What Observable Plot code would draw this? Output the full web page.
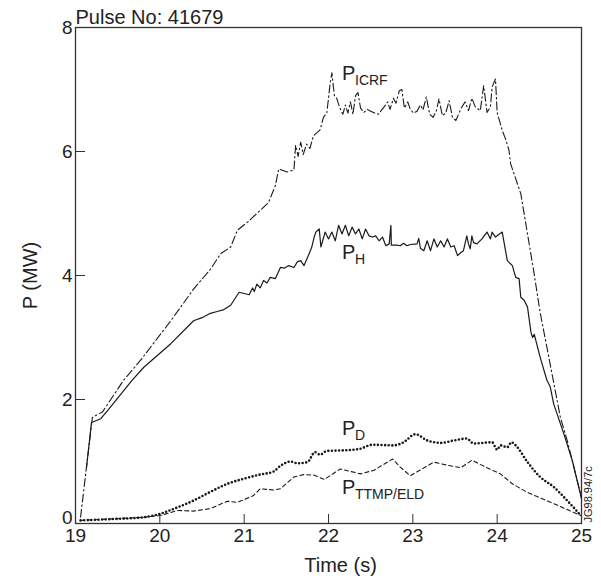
<!DOCTYPE html>
<html><head><meta charset="utf-8">
<script src="https://cdn.jsdelivr.net/npm/d3@7"></script>
<script src="https://cdn.jsdelivr.net/npm/@observablehq/plot@0.6"></script>
<style>body{margin:0;background:#fff;}</style>
</head><body><div id="chart"></div>
<script>
// [time (s), power (MW)]
const pICRF = [[19.06,0.10],[19.20,1.71],[19.32,1.80],[19.57,2.31],[19.77,2.63],[20.13,3.27],[20.40,3.78],[20.60,4.10],[20.72,4.35],[20.84,4.46],[20.92,4.73],[21.04,4.86],[21.19,5.05],[21.29,5.18],[21.37,5.45],[21.41,5.72],[21.51,5.67],[21.59,5.70],[21.61,6.10],[21.64,5.92],[21.67,6.15],[21.70,5.95],[21.74,6.12],[21.78,6.05],[21.82,6.25],[21.86,6.30],[21.90,6.35],[21.94,6.55],[21.98,6.62],[22.02,7.10],[22.04,7.27],[22.07,6.90],[22.10,6.85],[22.13,6.72],[22.17,6.60],[22.20,6.75],[22.23,6.62],[22.26,6.80],[22.29,6.60],[22.32,6.90],[22.35,6.95],[22.38,6.70],[22.42,6.63],[22.46,6.68],[22.50,6.65],[22.55,6.62],[22.59,6.60],[22.62,6.65],[22.66,6.72],[22.70,6.80],[22.73,6.68],[22.77,6.86],[22.80,6.78],[22.84,6.98],[22.87,7.00],[22.90,6.70],[22.94,6.80],[22.97,6.68],[23.01,6.62],[23.05,6.65],[23.09,6.75],[23.12,6.67],[23.16,6.88],[23.20,6.60],[23.24,6.55],[23.28,6.66],[23.31,6.85],[23.35,6.58],[23.39,6.62],[23.43,6.82],[23.47,6.55],[23.51,6.50],[23.57,6.69],[23.62,6.80],[23.66,6.66],[23.70,6.86],[23.74,6.72],[23.80,6.66],[23.84,7.06],[23.88,6.63],[23.92,6.72],[23.94,7.04],[23.98,7.17],[24.00,6.63],[24.06,6.34],[24.10,6.20],[24.14,6.02],[24.16,5.80],[24.28,5.32],[24.43,4.10],[24.51,3.40],[24.59,2.84],[24.75,1.71],[24.83,1.34],[25.00,0.42]];
const pH = [[19.13,0.90],[19.19,1.63],[19.30,1.69],[19.38,1.82],[19.67,2.31],[19.81,2.52],[20.13,2.90],[20.40,3.27],[20.50,3.32],[20.60,3.39],[20.68,3.42],[20.76,3.45],[20.84,3.52],[20.94,3.73],[21.06,3.69],[21.10,3.80],[21.12,3.74],[21.15,3.86],[21.19,3.80],[21.23,3.92],[21.27,3.88],[21.31,3.97],[21.37,3.95],[21.43,4.13],[21.48,4.12],[21.53,4.16],[21.59,4.13],[21.63,4.22],[21.67,4.24],[21.71,4.16],[21.77,4.35],[21.80,4.45],[21.83,4.62],[21.85,4.70],[21.89,4.75],[21.91,4.46],[21.96,4.70],[22.00,4.59],[22.04,4.70],[22.08,4.56],[22.12,4.81],[22.16,4.67],[22.20,4.81],[22.24,4.64],[22.28,4.78],[22.32,4.67],[22.36,4.75],[22.40,4.59],[22.44,4.75],[22.48,4.64],[22.52,4.62],[22.56,4.64],[22.60,4.56],[22.64,4.62],[22.68,4.48],[22.72,4.51],[22.74,4.81],[22.745,4.49],[22.81,4.49],[22.85,4.48],[22.89,4.52],[22.93,4.48],[22.97,4.50],[23.05,4.51],[23.07,4.60],[23.09,4.44],[23.13,4.40],[23.17,4.56],[23.21,4.40],[23.25,4.59],[23.29,4.46],[23.33,4.56],[23.37,4.46],[23.41,4.59],[23.45,4.46],[23.49,4.48],[23.53,4.32],[23.57,4.37],[23.60,4.40],[23.64,4.64],[23.66,4.51],[23.68,4.43],[23.70,4.64],[23.72,4.53],[23.76,4.51],[23.82,4.59],[23.88,4.70],[23.92,4.59],[23.94,4.70],[23.98,4.62],[24.06,4.70],[24.12,4.24],[24.18,4.16],[24.22,3.97],[24.26,3.95],[24.28,3.65],[24.32,3.60],[24.36,3.49],[24.40,3.09],[24.42,3.00],[24.44,3.05],[24.51,2.68],[24.59,2.31],[24.63,2.20],[24.67,1.93],[24.79,1.45],[24.89,1.02],[25.00,0.40]];
const pD = [[19.06,0.05],[19.41,0.07],[19.81,0.10],[20.01,0.16],[20.21,0.26],[20.40,0.37],[20.60,0.51],[20.80,0.64],[20.99,0.72],[21.19,0.79],[21.35,0.84],[21.43,0.93],[21.55,1.00],[21.63,0.97],[21.75,0.99],[21.84,1.15],[21.90,1.11],[21.98,1.17],[22.18,1.18],[22.36,1.20],[22.52,1.27],[22.77,1.26],[22.89,1.31],[23.03,1.44],[23.17,1.34],[23.33,1.30],[23.49,1.34],[23.64,1.37],[23.72,1.29],[23.94,1.31],[24.00,1.19],[24.04,1.26],[24.12,1.23],[24.17,1.31],[24.22,1.26],[24.36,0.99],[24.51,0.75],[24.67,0.59],[24.83,0.37],[24.99,0.13]];
const pTTMP = [[19.06,0.05],[19.81,0.10],[20.01,0.13],[20.21,0.21],[20.40,0.20],[20.60,0.24],[20.80,0.36],[20.92,0.34],[21.11,0.45],[21.19,0.56],[21.35,0.54],[21.43,0.56],[21.59,0.75],[21.71,0.79],[21.83,0.78],[21.95,0.71],[22.14,0.88],[22.38,0.80],[22.54,0.86],[22.76,1.04],[22.85,0.91],[22.97,0.77],[23.25,0.99],[23.41,0.94],[23.57,0.90],[23.70,1.02],[23.88,0.90],[24.04,0.80],[24.18,0.64],[24.36,0.50],[24.67,0.32],[24.99,0.13]];

const xTicks = [19, 20, 21, 22, 23, 24, 25];
const yTicks = [2, 4, 6, 8];
const yZeroTick = [0];
const seriesLabels = [
  {t: 22.16, P: 7.15, main: "P", sub: "ICRF"},
  {t: 22.16, P: 4.27, main: "P", sub: "H"},
  {t: 22.16, P: 1.42, main: "P", sub: "D"},
  {t: 22.16, P: 0.48, main: "P", sub: "TTMP/ELD"}
];
const title = "Pulse No: 41679";
const xLabel = "Time (s)";
const yLabel = "P (MW)";
const figId = "JG98.94/7c";

const toObj = arr => arr.map(([t, P]) => ({t, P}));
const ink = "#1a1a1a";
const font = "'Liberation Sans', Arial, Helvetica, sans-serif";

const chart = Plot.plot({
  width: 601, height: 578,
  marginLeft: 75, marginRight: 20, marginTop: 27, marginBottom: 55,
  style: {fontFamily: font, fontSize: "19px", background: "white", color: "#222"},
  x: {domain: [19, 25]},
  y: {domain: [0, 8]},
  marks: [
    Plot.frame({stroke: "#333", strokeWidth: 1.3}),
    Plot.axisX({ticks: xTicks, tickSize: -9, tickPadding: 14, tickFormat: d => String(d), label: null, fontSize: 19, stroke: "#333"}),
    Plot.axisY({ticks: yTicks, tickSize: -10, tickPadding: 13, tickFormat: d => String(d), label: null, fontSize: 19, stroke: "#333"}),
    Plot.axisY({ticks: yZeroTick, tickSize: 0, tickPadding: 3, tickFormat: d => String(d), label: null, fontSize: 19, dy: -6}),
    Plot.line(toObj(pICRF), {x: "t", y: "P", stroke: ink, strokeWidth: 1.1, strokeDasharray: "8,3,1.5,3"}),
    Plot.line(toObj(pH), {x: "t", y: "P", stroke: ink, strokeWidth: 1.2}),
    Plot.line(toObj(pD), {x: "t", y: "P", stroke: ink, strokeWidth: 2.6, strokeDasharray: "0,3.6", strokeLinecap: "round", curve: "monotone-x"}),
    Plot.line(toObj(pTTMP), {x: "t", y: "P", stroke: ink, strokeWidth: 1.1, strokeDasharray: "4,3"}),
    Plot.text(seriesLabels, {x: "t", y: "P", text: "main", textAnchor: "start", lineAnchor: "bottom", fontSize: 20, fill: "#222"}),
    Plot.text(seriesLabels, {x: "t", y: "P", text: "sub", textAnchor: "start", lineAnchor: "bottom", fontSize: 14, dx: 13, dy: 5, fill: "#222"}),
    Plot.text([title], {text: d => d, frameAnchor: "top-left", textAnchor: "start", lineAnchor: "bottom", dx: 0, dy: -4, fontSize: 20, fill: "#222"}),
    Plot.text([xLabel], {text: d => d, frameAnchor: "bottom", textAnchor: "middle", lineAnchor: "bottom", dx: 12, dy: 48, fontSize: 20, fill: "#222"}),
    Plot.text([yLabel], {text: d => d, frameAnchor: "left", textAnchor: "middle", lineAnchor: "middle", rotate: -90, dx: -45, fontSize: 20, fill: "#222"}),
    Plot.text([figId], {text: d => d, frameAnchor: "bottom-right", textAnchor: "start", lineAnchor: "bottom", rotate: -90, dx: 10, dy: -1, fontSize: 11, fill: "#222"})
  ]
});
document.getElementById("chart").append(chart);
</script>
</body></html>
